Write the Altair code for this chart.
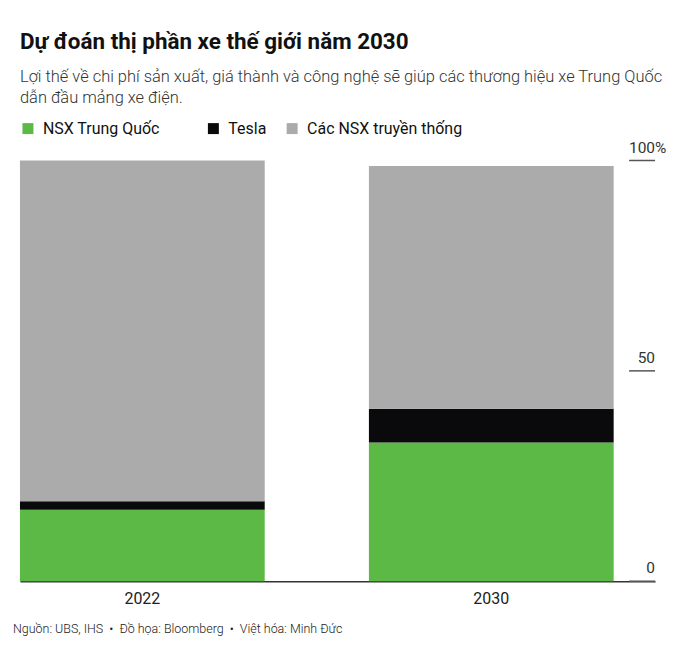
import altair as alt
import pandas as pd

years = ["2022", "2030"]
groups = ["NSX Trung Quốc", "Tesla", "Các NSX truyền thống"]
china = [17, 33]
tesla = [2, 8]
legacy = [81, 57.7]
colors = ["#5cb946", "#0a0a0c", "#ababab"]

tick_values = [0, 50, 100]
tick_labels = ["0", "50", "100"]

title = "Dự đoán thị phần xe thế giới năm 2030"
subtitle = [
    "Lợi thế về chi phí sản xuất, giá thành và công nghệ sẽ giúp các thương hiệu xe Trung Quốc",
    "dẫn đầu mảng xe điện.",
]
footer = "Nguồn: UBS, IHS\u00a0\u00a0•\u00a0\u00a0Đồ họa: Bloomberg\u00a0\u00a0•\u00a0\u00a0Việt hóa: Minh Đức"

W, H = 637, 422

rows = []
for i, y in enumerate(years):
    for k, (g, vals) in enumerate(zip(groups, [china, tesla, legacy])):
        rows.append({"year": y, "group": g, "value": vals[i], "order": k})
df = pd.DataFrame(rows)

ticks_df = pd.DataFrame({"v": tick_values, "label": tick_labels})
pct_df = pd.DataFrame({"v": [100], "label": ["%"]})
foot_df = pd.DataFrame({"t": [footer]})

yscale = alt.Scale(domain=[0, 100], nice=False)

pad_expr = ("datum.label == 'NSX Trung Quốc' ? datum.label + "
            "'\u00a0\u00a0\u00a0\u00a0\u00a0\u00a0\u00a0\u200b' : datum.label")

bars = alt.Chart(df).mark_bar().encode(
    x=alt.X("year:N", sort=years,
            scale=alt.Scale(paddingInner=0.2986, paddingOuter=0.0593, align=0),
            axis=alt.Axis(title=None, labelAngle=0, ticks=False, domain=True,
                          domainColor="#333", domainWidth=1.5,
                          labelFont="Roboto", labelFontSize=16, labelColor="#222",
                          labelPadding=9)),
    y=alt.Y("value:Q", stack="zero", scale=yscale, axis=None),
    color=alt.Color("group:N", sort=groups,
                    scale=alt.Scale(domain=groups, range=colors),
                    legend=alt.Legend(
                        title=None, orient="top", direction="horizontal",
                        symbolType="square", symbolSize=121, symbolStrokeWidth=0,
                        labelFont="Roboto", labelFontSize=16, labelColor="#111",
                        labelOffset=7, columnPadding=17, labelLimit=300, offset=24,
                        labelExpr=pad_expr)),
    order=alt.Order("order:Q"),
)

tick_rules = alt.Chart(ticks_df).mark_rule(color="#555", strokeWidth=1.5).encode(
    x=alt.value(W - 26), x2=alt.value(W),
    y=alt.Y("v:Q", scale=yscale, axis=None),
)

tick_text = alt.Chart(ticks_df).mark_text(
    align="right", baseline="alphabetic", dy=-8,
    font="Roboto", fontSize=15.5, color="#333"
).encode(
    x=alt.value(W), y=alt.Y("v:Q", scale=yscale, axis=None), text="label:N"
)

pct_text = alt.Chart(pct_df).mark_text(
    align="left", baseline="alphabetic", dy=-8,
    font="Roboto", fontSize=15.5, color="#333"
).encode(
    x=alt.value(W), y=alt.Y("v:Q", scale=yscale, axis=None), text="label:N"
)

foot_text = alt.Chart(foot_df).mark_text(
    align="left", baseline="middle", font="Roboto", fontSize=12.5,
    fontWeight=300, color="#222"
).encode(
    x=alt.value(-7), y=alt.value(H + 48), text="t:N"
)

chart = alt.layer(bars, tick_rules, tick_text, pct_text, foot_text).properties(
    width=W, height=H,
    padding={"left": 5, "top": 22, "right": 5, "bottom": 5},
    title=alt.TitleParams(
        text=title, subtitle=subtitle, anchor="start", frame="group",
        font="Roboto", fontSize=22.5, fontWeight="bold", color="#111",
        subtitleFont="Roboto", subtitleFontSize=16.5, subtitleFontWeight=300,
        subtitleColor="#333", subtitleLineHeight=21, subtitlePadding=16,
        offset=14,
    ),
).configure(background="white").configure_view(stroke="transparent", strokeWidth=0)

chart.save("out.html", embed_options={"renderer": "svg", "actions": False})
